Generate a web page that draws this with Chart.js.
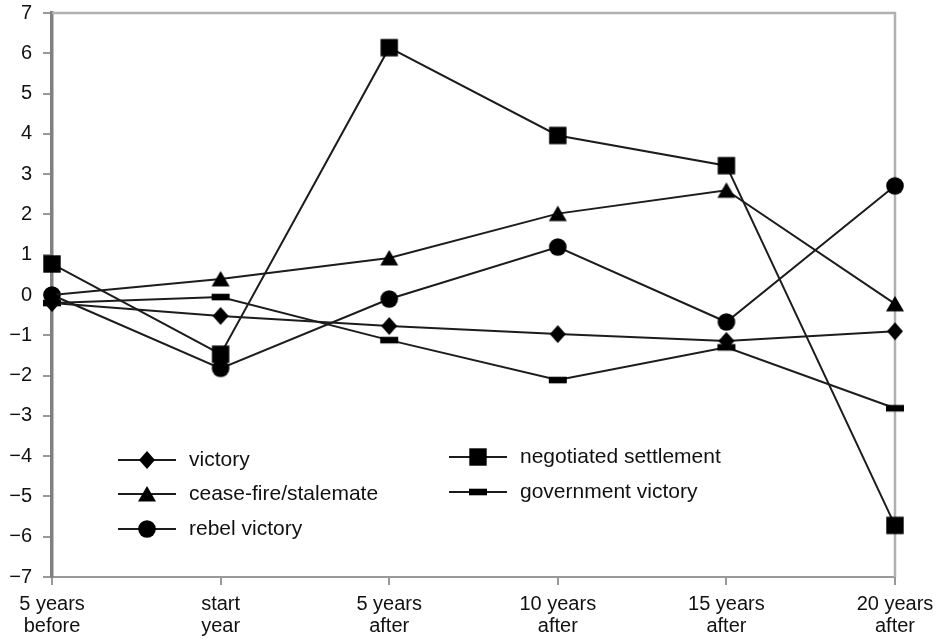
<!DOCTYPE html>
<html>
<head>
<meta charset="utf-8">
<script src="https://cdn.jsdelivr.net/npm/chart.js@4/dist/chart.umd.min.js"></script>
<style>
html,body{margin:0;padding:0;background:#fff;}
#wrap{width:937px;height:639px;position:relative;}
</style>
</head>
<body>
<div id="wrap"><canvas id="c" width="937" height="639"></canvas></div>
<script>
const categories = [["5 years","before"],["start","year"],["5 years","after"],["10 years","after"],["15 years","after"],["20 years","after"]];
const victory = [-0.2, -0.52, -0.77, -0.97, -1.14, -0.9];
const ceaseFire = [0.0, 0.4, 0.92, 2.02, 2.6, -0.22];
const rebelVictory = [0.0, -1.82, -0.1, 1.19, -0.67, 2.71];
const negotiatedSettlement = [0.77, -1.47, 6.14, 3.96, 3.21, -5.72];
const governmentVictory = [-0.2, -0.05, -1.12, -2.11, -1.3, -2.81];
const yTicks = [-7,-6,-5,-4,-3,-2,-1,0,1,2,3,4,5,6,7];

const FONT = "'Liberation Sans', Arial, sans-serif";

function markerCanvas(kind){
  const cv = document.createElement('canvas');
  cv.width = 20; cv.height = 20;
  const g = cv.getContext('2d');
  const x = 10, y = 10;
  g.fillStyle = '#000';
  g.beginPath();
  if(kind==='diamond'){
    g.moveTo(x,y-9);g.lineTo(x+8,y);g.lineTo(x,y+9);g.lineTo(x-8,y);g.closePath();g.fill();
  } else if(kind==='triangle'){
    g.moveTo(x,y-8);g.lineTo(x+9,y+7.5);g.lineTo(x-9,y+7.5);g.closePath();g.fill();
  } else if(kind==='circle'){
    g.arc(x,y,8.8,0,Math.PI*2);g.fill();
  } else if(kind==='square'){
    g.fillRect(x-8.7,y-8.7,17.4,17.4);
  } else {
    g.fillRect(x-9,y-3.3,18,6.6);
  }
  return cv;
}

function ds(label, data, kind){
  return {
    label, data,
    borderColor:'#1c1c1c', backgroundColor:'#000', borderWidth:2,
    pointStyle: markerCanvas(kind), pointRadius: 10, pointHoverRadius: 10,
    tension:0, fill:false
  };
}

const datasets = [
  ds('victory', victory, 'diamond'),
  ds('cease-fire/stalemate', ceaseFire, 'triangle'),
  ds('rebel victory', rebelVictory, 'circle'),
  ds('negotiated settlement', negotiatedSettlement, 'square'),
  ds('government victory', governmentVictory, 'dash')
];

// legend layout: [line start x, row y]
const legendPos = [[118,460],[118,494],[118,529],[449,457],[449,492]];

const framePlugin = {
  id:'frame',
  beforeDatasetsDraw(chart){
    const {ctx, chartArea:a} = chart;
    ctx.save();
    ctx.strokeStyle='#b0b0b0'; ctx.lineWidth=2.5;
    ctx.beginPath();
    ctx.moveTo(a.left,a.top); ctx.lineTo(a.right,a.top); ctx.lineTo(a.right,a.bottom);
    ctx.stroke();
    ctx.restore();
  },
  afterDatasetsDraw(chart){
    const ctx = chart.ctx;
    ctx.save();
    chart.data.datasets.forEach((d,i)=>{
      const [lx,ly] = legendPos[i];
      ctx.strokeStyle='#1c1c1c'; ctx.lineWidth=2;
      ctx.beginPath(); ctx.moveTo(lx,ly); ctx.lineTo(lx+58,ly); ctx.stroke();
      ctx.drawImage(d.pointStyle, lx+29-10, ly-10);
      ctx.fillStyle='#111'; ctx.font='21px '+FONT; ctx.textBaseline='middle'; ctx.textAlign='left';
      ctx.fillText(d.label, lx+71, ly);
    });
    ctx.restore();
  }
};

new Chart(document.getElementById('c'), {
  type:'line',
  data:{ labels: categories, datasets },
  options:{
    responsive:false, animation:false,
    layout:{ padding:{ left:0, right:42, top:13, bottom:0 } },
    plugins:{ legend:{display:false}, tooltip:{enabled:false} },
    scales:{
      x:{
        type:'category', offset:false,
        grid:{ drawOnChartArea:false, drawTicks:true, tickLength:8, color:'#999', lineWidth:2 },
        border:{ display:true, color:'#999', width:2 },
        ticks:{ color:'#111', font:{ family:FONT, size:20, lineHeight:1.1 }, padding:8, maxRotation:0, autoSkip:false },
        afterFit(s){ s.height = 62; s.paddingLeft = 0; s.paddingRight = 0; }
      },
      y:{
        min:-7, max:7,
        afterBuildTicks(s){ s.ticks = yTicks.map(v=>({value:v})); },
        grid:{ drawOnChartArea:false, drawTicks:true, tickLength:9, color:'#999', lineWidth:2 },
        border:{ display:true, color:'#808080', width:3.5 },
        ticks:{ color:'#111', font:{ family:FONT, size:20 }, padding:11,
          callback:(v)=> v<0 ? '\u2212'+Math.abs(v) : String(v) },
        afterFit(s){ s.width = 52; s.paddingTop = 0; s.paddingBottom = 0; }
      }
    }
  },
  plugins:[framePlugin]
});
</script>
</body>
</html>
